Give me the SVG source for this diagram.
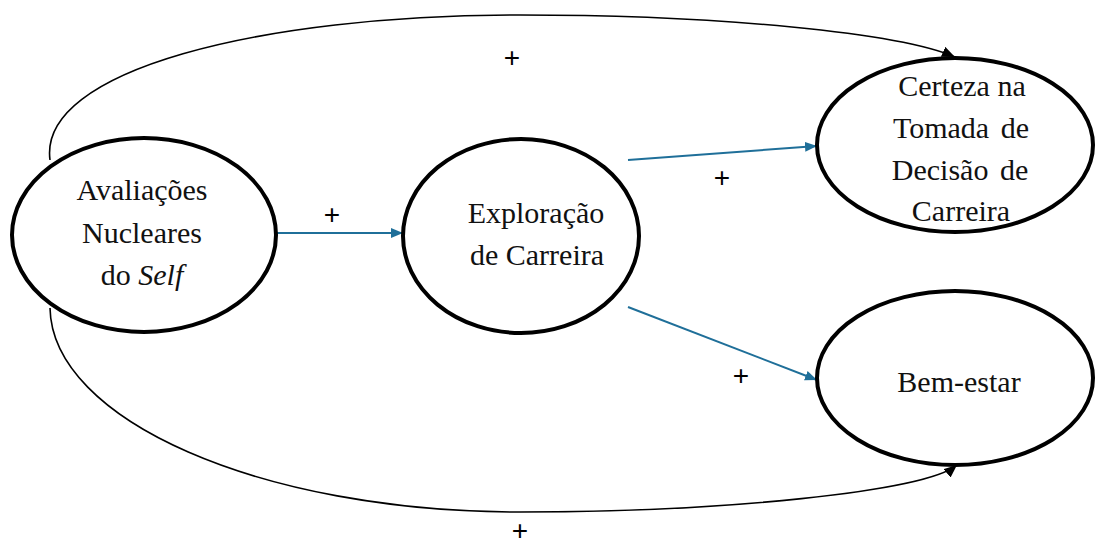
<svg xmlns="http://www.w3.org/2000/svg" width="1096" height="545" viewBox="0 0 1096 545">
<style>
.node{fill:#fff;stroke:#000;stroke-width:4}
.t{font-family:"Liberation Serif","Times New Roman",serif;font-size:30px;fill:#111;text-anchor:middle}
.blue{stroke:#1f6f99;stroke-width:2;fill:none}
.black{stroke:#000;stroke-width:1.6;fill:none}
.plus{font-family:"Liberation Sans",Arial,sans-serif;font-size:28px;fill:#000;text-anchor:middle}
</style>
<defs>
<marker id="ab" viewBox="0 0 12 10" refX="12" refY="5" markerWidth="12" markerHeight="10" markerUnits="userSpaceOnUse" orient="auto"><path d="M0,0 L12,5 L0,10 z" fill="#1f6f99"/></marker>
<marker id="ak" viewBox="0 0 12 10" refX="12" refY="5" markerWidth="13" markerHeight="11" markerUnits="userSpaceOnUse" orient="auto"><path d="M0,0 L12,5 L0,10 z" fill="#000"/></marker>
</defs>
<g id="connectors">
<path class="black" d="M50,160 C38,70 260,15 520,15 C720,15 900,33 955,57" marker-end="url(#ak)"/>
<path class="black" d="M50,308 C52,420 260,512 520,512 C720,512 925,492 957,465" marker-end="url(#ak)"/>
<path class="blue" d="M276,233 L403,233" marker-end="url(#ab)"/>
<path class="blue" d="M628,160 L817,146" marker-end="url(#ab)"/>
<path class="blue" d="M628,307 L817,380" marker-end="url(#ab)"/>
<text class="plus" x="512" y="66.5">+</text>
<text class="plus" x="332" y="223.5">+</text>
<text class="plus" x="722" y="186.5">+</text>
<text class="plus" x="741" y="384.5">+</text>
<text class="plus" x="520" y="540">+</text>
</g>
<g id="n-avaliacoes">
<ellipse class="node" cx="144" cy="235" rx="132" ry="97"/>
<text class="t" x="142" y="200">Avaliações</text>
<text class="t" x="142" y="243">Nucleares</text>
<text class="t" x="142" y="285">do <tspan font-style="italic">Self</tspan></text>
</g>
<g id="n-exploracao">
<ellipse class="node" cx="521" cy="236" rx="118" ry="97"/>
<text class="t" x="536" y="223">Exploração</text>
<text class="t" x="537" y="265">de Carreira</text>
</g>
<g id="n-certeza">
<ellipse class="node" cx="955" cy="145" rx="138" ry="87"/>
<text class="t" x="962" y="96">Certeza na</text>
<text class="t" x="961" y="138" word-spacing="4">Tomada de</text>
<text class="t" x="960" y="180" word-spacing="4">Decisão de</text>
<text class="t" x="961" y="221">Carreira</text>
</g>
<g id="n-bemestar">
<ellipse class="node" cx="955" cy="378" rx="138" ry="87"/>
<text class="t" x="959" y="392">Bem-estar</text>
</g>
</svg>
